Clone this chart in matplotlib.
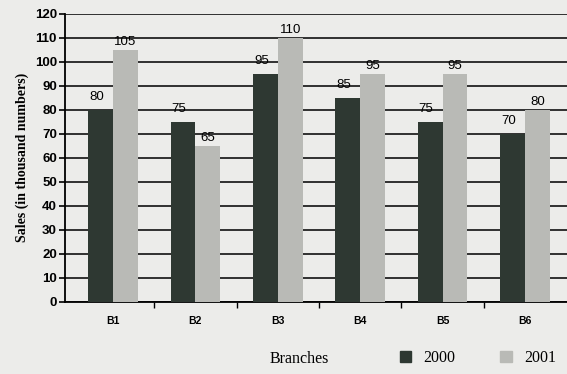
import matplotlib.pyplot as plt
import numpy as np
from matplotlib.patches import Patch

branches = ["B1", "B2", "B3", "B4", "B5", "B6"]
sales_2000 = [80, 75, 95, 85, 75, 70]
sales_2001 = [105, 65, 110, 95, 95, 80]
yticks = list(range(0, 121, 10))

bg = "#ececea"
dark = "#2e3832"
light = "#b9bab6"

fig = plt.figure(figsize=(5.67, 3.74), dpi=100, facecolor=bg)
ax = fig.add_axes([0.115, 0.193, 0.885, 0.77], facecolor=bg)

x = np.arange(len(branches))
w = 0.3
ax.bar(x - w / 2, sales_2000, w, color=dark, zorder=3)
ax.bar(x + w / 2, sales_2001, w, color=light, zorder=3)

for xi, v in zip(x, sales_2000):
    ax.text(xi - w / 2 - 0.05, v + 3, str(v), ha="center", va="bottom",
            fontsize=9.5, family="Liberation Sans", zorder=4)
for xi, v in zip(x, sales_2001):
    ax.text(xi + w / 2, v + 0.8, str(v), ha="center", va="bottom",
            fontsize=9.5, family="Liberation Sans", zorder=4)

ax.set_ylim(0, 120)
ax.set_xlim(-0.58, 5.51)
ax.set_yticks(yticks)
ax.set_yticklabels([str(t) for t in yticks], fontsize=9.5, fontweight="bold",
                   family="Liberation Sans")
ax.set_xticks(x)
ax.set_xticklabels(branches, fontsize=7.5, fontweight="bold", family="Liberation Sans")
ax.tick_params(axis="x", length=0, pad=10)
ax.tick_params(axis="y", length=4, width=1.2, direction="out", pad=2)
ax.set_xticks(x[:-1] + 0.5, minor=True)
ax.tick_params(axis="x", which="minor", length=4, width=1, direction="out")

ax.yaxis.grid(True, color="#222222", linewidth=1.3, zorder=0)
for s in ["top", "right"]:
    ax.spines[s].set_visible(False)
ax.spines["left"].set_linewidth(1.3)
ax.spines["bottom"].set_linewidth(1.3)

ax.set_ylabel("Sales (in thousand numbers)", fontsize=10, fontweight="bold",
              family="Liberation Serif", labelpad=4)

fig.text(0.475, 0.03, "Branches", fontsize=11.5, family="Liberation Serif")
handles = [Patch(color=dark), Patch(color=light)]
fig.legend(handles, ["2000", "2001"], loc="lower right", bbox_to_anchor=(0.998, -0.005),
           ncol=2, frameon=False, handlelength=0.7, handleheight=0.7,
           columnspacing=2.8, handletextpad=0.8, borderaxespad=0.2,
           prop={"family": "Liberation Serif", "size": 11.5})

fig.savefig("out.png", dpi=100, facecolor=bg)
